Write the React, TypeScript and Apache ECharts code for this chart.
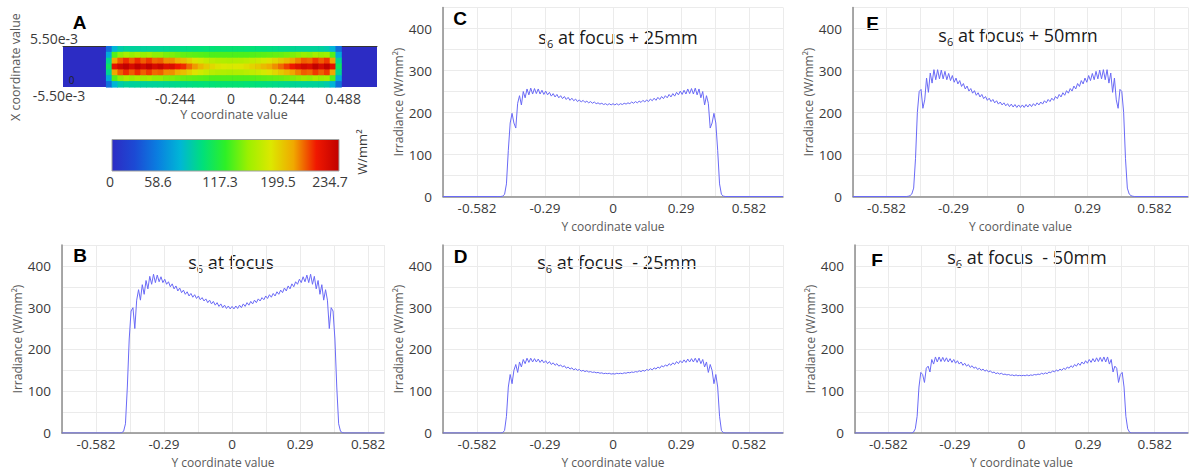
import React, { useEffect, useRef } from 'react';
import * as echarts from 'echarts';

// ---------- line-profile data (irradiance, W/mm², sampled every X_STEP starting at X_START) ----------
const X_START = -0.496;
const X_STEP = 0.008;

const S6_FOCUS = [
  0, 0,
  0, 1, 4, 22, 110, 225, 292, 300, 250, 318,
  343, 318, 355, 332, 365, 345, 375, 356, 380, 360,
  378, 362, 374, 360, 368, 356, 362, 350, 357, 345,
  352, 340, 347, 336, 342, 332, 338, 328, 334, 325,
  331, 322, 328, 319, 324, 316, 321, 312, 318, 309,
  315, 306, 312, 303, 309, 300, 306, 298, 304, 297,
  303,
  297, 304, 298, 306, 300, 309, 303, 312, 306, 315,
  309, 318, 312, 321, 316, 324, 319, 328, 322, 331,
  325, 334, 328, 338, 332, 342, 336, 347, 340, 352,
  345, 357, 350, 362, 356, 368, 360, 374, 362, 378,
  360, 380, 356, 375, 345, 365, 332, 355, 318, 343,
  318, 250, 300, 292, 225, 110, 22, 4, 1, 0,
  0, 0,
];

const S6_PLUS25 = [
  0, 0,
  0, 1, 5, 30, 110, 175, 198, 175, 163, 222,
  240, 218, 250, 235, 256, 242, 258, 244, 257, 245,
  256, 244, 253, 243, 251, 242, 248, 239, 245, 237,
  243, 235, 240, 233, 238, 231, 236, 229, 234, 228,
  232, 226, 230, 225, 229, 224, 227, 223, 226, 222,
  225, 221, 223, 220, 222, 219, 221, 218, 221, 218,
  221,
  218, 221, 218, 221, 219, 222, 220, 223, 221, 225,
  222, 226, 223, 227, 224, 229, 225, 230, 226, 232,
  228, 234, 229, 236, 231, 238, 233, 240, 235, 243,
  237, 245, 239, 248, 242, 251, 243, 253, 244, 256,
  245, 257, 244, 258, 242, 256, 235, 250, 218, 240,
  222, 163, 175, 198, 175, 110, 30, 5, 1, 0,
  0, 0,
];

const S6_MINUS25 = [
  0, 0,
  0, 1, 6, 40, 110, 140, 118, 150, 164, 145,
  170, 158, 176, 166, 179, 169, 179, 170, 178, 170,
  177, 169, 175, 168, 173, 166, 171, 164, 168, 162,
  166, 160, 163, 158, 161, 155, 158, 153, 156, 151,
  154, 150, 152, 148, 150, 147, 149, 146, 147, 145,
  146, 144, 145, 143, 144, 142, 143, 142, 143, 141,
  142,
  141, 143, 142, 143, 142, 144, 143, 145, 144, 146,
  145, 147, 146, 149, 147, 150, 148, 152, 150, 154,
  151, 156, 153, 158, 155, 161, 158, 163, 160, 166,
  162, 168, 164, 171, 166, 173, 168, 175, 169, 177,
  170, 178, 170, 179, 169, 179, 166, 176, 158, 170,
  145, 164, 150, 118, 140, 110, 40, 6, 1, 0,
  0, 0,
];

const S6_PLUS50 = [
  0, 0.5,
  2, 6, 20, 90, 200, 250, 255, 210, 230, 282,
  248, 294, 270, 302, 278, 302, 280, 301, 280, 298,
  278, 293, 276, 288, 272, 282, 268, 276, 262, 269,
  256, 263, 251, 257, 246, 252, 241, 247, 237, 243,
  233, 238, 229, 234, 226, 231, 223, 228, 220, 225,
  218, 223, 216, 221, 214, 220, 213, 219, 212, 218,
  212,
  218, 212, 219, 213, 220, 214, 221, 216, 223, 218,
  225, 220, 228, 223, 231, 226, 234, 229, 238, 233,
  243, 237, 247, 241, 252, 246, 257, 251, 263, 256,
  269, 262, 276, 268, 282, 272, 288, 276, 293, 278,
  298, 280, 301, 280, 302, 278, 302, 270, 294, 248,
  282, 230, 210, 255, 250, 200, 90, 20, 6, 2,
  0.5, 0,
];

const S6_MINUS50 = [
  0, 0,
  0, 2, 10, 40, 110, 145, 140, 121, 155, 160,
  146, 176, 165, 182, 170, 182, 171, 181, 171, 180,
  170, 178, 169, 176, 167, 173, 165, 170, 162, 167,
  160, 164, 157, 161, 155, 158, 152, 155, 150, 153,
  148, 151, 146, 149, 144, 146, 142, 144, 141, 143,
  140, 141, 139, 140, 138, 139, 137, 139, 137, 138,
  137,
  138, 137, 139, 137, 139, 138, 140, 139, 141, 140,
  143, 141, 144, 142, 146, 144, 149, 146, 151, 148,
  153, 150, 155, 152, 158, 155, 161, 157, 164, 160,
  167, 162, 170, 165, 173, 167, 176, 169, 178, 170,
  180, 171, 181, 171, 182, 170, 182, 165, 176, 146,
  160, 155, 121, 140, 145, 110, 40, 10, 2, 0,
  0, 0,
];

// ---------- axes / ticks ----------
const X_MIN = -0.7275;
const X_SPLIT = 0.1455;
const X_TICK_VALUES = [-0.582, -0.291, 0, 0.291, 0.582];
const X_TICK_LABELS = ['-0.582', '-0.29', '0', '0.29', '0.582'];
const Y_TICK_VALUES = [0, 100, 200, 300, 400];
const Y_TICK_LABELS = ['0', '100', '200', '300', '400'];

// ---------- panel A heat map (W/mm², columns every HEAT_DX from HEAT_X_START) ----------
const HEAT_X_START = -0.5325;
const HEAT_DX = 0.025;
const HEAT_Y_MIN = -0.0055;
const HEAT_Y_MAX = 0.0055;
const HEAT_ROW_CENTER = [
  100, 218, 228, 234, 224, 234, 226, 234, 224, 230, 220, 222, 212, 208, 198, 190, 182, 175, 170, 166,
  164, 163, 164, 165, 168, 172, 176, 181, 186, 192, 198, 205, 212, 220, 226, 222, 234, 224, 234, 218, 100,
];
const HEAT_ROW_INNER = [
  88, 188, 200, 208, 200, 208, 200, 206, 198, 200, 192, 192, 184, 180, 173, 166, 160, 155, 151, 149,
  148, 147, 148, 149, 151, 154, 157, 161, 166, 171, 176, 182, 188, 194, 200, 198, 206, 200, 206, 188, 88,
];
const HEAT_ROW_OUTER = [
  65, 125, 138, 145, 140, 145, 140, 143, 138, 138, 134, 134, 131, 129, 128, 127, 126, 125, 124, 124,
  124, 124, 124, 124, 124, 125, 126, 127, 128, 129, 130, 132, 134, 137, 140, 138, 144, 140, 142, 125, 65,
];
const HEAT_ROW_EDGE = [
  40, 70, 82, 86, 85, 86, 85, 86, 86, 87, 88, 89, 90, 91, 92, 93, 94, 95, 95, 96,
  96, 96, 96, 96, 95, 95, 94, 93, 92, 91, 90, 89, 88, 87, 86, 86, 86, 85, 82, 70, 40,
];
const HEAT_ROWS_TOP_DOWN = [
  HEAT_ROW_EDGE, HEAT_ROW_OUTER, HEAT_ROW_INNER, HEAT_ROW_CENTER, HEAT_ROW_INNER, HEAT_ROW_OUTER, HEAT_ROW_EDGE,
];
const HEAT_X_TICK_VALUES = [-0.244, 0, 0.244, 0.488];
const HEAT_X_TICK_LABELS = ['-0.244', '0', '0.244', '0.488'];
const HEAT_Y_TICK_LABELS = ['5.50e-3', '-5.50e-3'];
const CBAR_MIN = 0;
const CBAR_MAX = 234.7;
const CBAR_LABELS = ['0', '58.6', '117.3', '199.5', '234.7'];
const COLOR_STOPS = [
  '#2c2cc4', '#1c4ad4', '#0a7ee0', '#00b6d6', '#00e07a', '#2ef026',
  '#9cf000', '#dce800', '#f0a800', '#f01800', '#c00000',
];

// ---------- styles ----------
const FONT = '"Open Sans", "Noto Sans", sans-serif';
const LETTER_FONT = '"Liberation Sans", Arial, sans-serif';
const LINE_COLOR = '#6a6af6';
const AXIS_COLOR = '#8c8c8c';
const GRID_COLOR = '#ebebeb';
const LABEL_COLOR = '#3a3a3a';
const NAME_COLOR = '#595959';

const PANELS = [
  { letter: 'B', title: ' at focus', data: S6_FOCUS, xMax: 0.65,
    grid: { left: 62, top: 245, width: 322, height: 188 }, letterPos: [80, 255], titlePos: [231, 262] },
  { letter: 'C', title: ' at focus + 25mm', data: S6_PLUS25, xMax: 0.7275,
    grid: { left: 443, top: 7.5, width: 340, height: 189 }, letterPos: [460, 18], titlePos: [618, 37] },
  { letter: 'D', title: ' at focus  - 25mm', data: S6_MINUS25, xMax: 0.7275,
    grid: { left: 443, top: 245, width: 340, height: 188 }, letterPos: [460.5, 256.5], titlePos: [617, 262] },
  { letter: 'E', title: ' at focus + 50mm', data: S6_PLUS50, xMax: 0.7275,
    grid: { left: 853, top: 7.5, width: 340, height: 189 }, letterPos: [872.5, 23.5], titlePos: [1018, 35] },
  { letter: 'F', title: ' at focus  - 50mm', data: S6_MINUS50, xMax: 0.7275,
    grid: { left: 855, top: 245, width: 340, height: 188 }, letterPos: [877, 260], titlePos: [1027, 257] },
];

function lookup(values: number[], labels: string[], v: number, tol: number) {
  for (let i = 0; i < values.length; i++) if (Math.abs(values[i] - v) < tol) return labels[i];
  return '';
}

function buildOption() {
  const grids: any[] = [
    { left: 63, top: 46, width: 314, height: 41, show: true, backgroundColor: COLOR_STOPS[0], borderWidth: 0 },
  ];
  const xAxes: any[] = [
    {
      gridIndex: 0, type: 'value', min: -0.732, max: 0.636, interval: 0.244,
      axisLine: { show: false }, axisTick: { show: false }, splitLine: { show: false },
      axisLabel: {
        margin: 4, fontSize: 14, color: LABEL_COLOR, fontFamily: FONT,
        formatter: (v: number) => lookup(HEAT_X_TICK_VALUES, HEAT_X_TICK_LABELS, v, 1e-3),
      },
    },
    {
      gridIndex: 0, type: 'value', position: 'top', min: -0.732, max: 0.636,
      axisLine: { show: true, onZero: false, lineStyle: { color: '#333', width: 1 } },
      axisTick: { show: false }, splitLine: { show: false }, axisLabel: { show: false },
    },
  ];
  const yAxes: any[] = [
    {
      gridIndex: 0, type: 'value', min: HEAT_Y_MIN, max: HEAT_Y_MAX,
      axisLine: { show: false }, axisTick: { show: false }, splitLine: { show: false }, axisLabel: { show: false },
    },
  ];

  const heatDY = (HEAT_Y_MAX - HEAT_Y_MIN) / HEAT_ROWS_TOP_DOWN.length;
  const heatData: number[][] = [];
  HEAT_ROWS_TOP_DOWN.forEach((row, r) => {
    const y = HEAT_Y_MAX - (r + 0.5) * heatDY;
    row.forEach((v, i) => heatData.push([HEAT_X_START + i * HEAT_DX, y, v]));
  });

  const series: any[] = [
    {
      type: 'custom', xAxisIndex: 0, yAxisIndex: 0, data: heatData, encode: { x: 0, y: 1 }, silent: true,
      renderItem: (_p: any, api: any) => {
        const x = api.value(0);
        const y = api.value(1);
        const a = api.coord([x - HEAT_DX / 2, y + heatDY / 2]);
        const b = api.coord([x + HEAT_DX / 2, y - heatDY / 2]);
        return {
          type: 'rect',
          shape: { x: a[0], y: a[1], width: b[0] - a[0] + 0.6, height: b[1] - a[1] + 0.6 },
          style: { fill: api.visual('color') },
        };
      },
    },
  ];

  const graphics: any[] = [];

  PANELS.forEach((p, k) => {
    const gi = k + 1;
    const xi = xAxes.length;
    const yi = yAxes.length;
    grids.push({ ...p.grid, show: false });
    xAxes.push({
      gridIndex: gi, type: 'value', min: X_MIN, max: p.xMax, interval: X_SPLIT,
      axisLine: { show: true, onZero: false, lineStyle: { color: AXIS_COLOR, width: 1.5 } },
      axisTick: { show: false },
      splitLine: { show: true, lineStyle: { color: GRID_COLOR, width: 1 } },
      axisLabel: {
        margin: 4, fontSize: 13.5, lineHeight: 14, color: LABEL_COLOR, fontFamily: FONT,
        formatter: (v: number) => lookup(X_TICK_VALUES, X_TICK_LABELS, v, 1e-3),
      },
      name: 'Y coordinate value', nameLocation: 'middle', nameGap: 23,
      nameTextStyle: { fontSize: 12, lineHeight: 13, color: NAME_COLOR, fontFamily: FONT },
    });
    yAxes.push({
      gridIndex: gi, type: 'value', min: 0, max: 450, interval: 50,
      axisLine: { show: true, onZero: false, lineStyle: { color: AXIS_COLOR, width: 1.5 } },
      axisTick: { show: false },
      splitLine: { show: true, lineStyle: { color: GRID_COLOR, width: 1 } },
      axisLabel: {
        margin: 11, fontSize: 13.5, color: LABEL_COLOR, fontFamily: FONT,
        formatter: (v: number) => lookup(Y_TICK_VALUES, Y_TICK_LABELS, v, 1e-6),
      },
      name: 'Irradiance (W/mm²)', nameLocation: 'middle', nameGap: 30,
      nameTextStyle: { fontSize: 12, color: NAME_COLOR, fontFamily: FONT },
    });
    const pts: number[][] = [[X_MIN, 0]];
    p.data.forEach((v, i) => pts.push([X_START + i * X_STEP, v]));
    pts.push([p.xMax, 0]);
    series.push({
      type: 'line', xAxisIndex: xi, yAxisIndex: yi, data: pts, showSymbol: false, silent: true,
      lineStyle: { color: LINE_COLOR, width: 1 }, clip: true,
    });
    graphics.push({
      type: 'text', x: p.letterPos[0], y: p.letterPos[1],
      style: { text: p.letter, fill: '#000', font: `bold 19px ${LETTER_FONT}`, align: 'center', verticalAlign: 'middle' },
    });
    graphics.push({
      type: 'text', x: p.titlePos[0], y: p.titlePos[1],
      style: {
        text: `{a|s}{b|6}{a|${p.title}}`, align: 'center', verticalAlign: 'middle',
        rich: {
          a: { fontSize: 18, fontFamily: FONT, fill: '#1a1a1a' },
          b: { fontSize: 11, fontFamily: FONT, fill: '#1a1a1a', padding: [12, 0, 0, 0] },
        },
      },
    });
  });

  // Panel A texts and colour bar
  const txt = (text: string, x: number, y: number, size: number, extra: any = {}) => ({
    type: 'text', x, y, rotation: extra.rotation || 0,
    style: {
      text, fill: extra.fill || LABEL_COLOR, font: `${extra.weight || 'normal'} ${size}px ${extra.family || FONT}`,
      align: 'center', verticalAlign: 'middle',
    },
  });
  graphics.push(txt('A', 79.5, 22.5, 19, { weight: 'bold', family: LETTER_FONT, fill: '#000' }));
  graphics.push(txt(HEAT_Y_TICK_LABELS[0], 54, 38, 14));
  graphics.push(txt(HEAT_Y_TICK_LABELS[1], 59, 95, 14));
  graphics.push(txt('0', 71.5, 80, 10, { fill: '#222' }));
  graphics.push(txt('Y coordinate value', 234, 114, 12.5, { fill: NAME_COLOR }));
  graphics.push(txt('X coordinate value', 15, 67, 12.5, { fill: NAME_COLOR, rotation: Math.PI / 2 }));
  graphics.push({
    type: 'rect', shape: { x: 112, y: 139.5, width: 227, height: 31.5 },
    style: {
      fill: new echarts.graphic.LinearGradient(0, 0, 1, 0,
        COLOR_STOPS.map((c, i) => ({ offset: i / (COLOR_STOPS.length - 1), color: c }))),
      stroke: '#a0a0a0', lineWidth: 1,
    },
  });
  const cbarX = [110, 158, 220, 278, 330];
  CBAR_LABELS.forEach((l, i) => graphics.push(txt(l, cbarX[i], 181.5, 14)));
  graphics.push(txt('W/mm²', 362, 152, 13, { rotation: Math.PI / 2 }));

  return {
    animation: false,
    backgroundColor: '#ffffff',
    grid: grids,
    xAxis: xAxes,
    yAxis: yAxes,
    visualMap: {
      type: 'continuous', show: false, min: CBAR_MIN, max: CBAR_MAX, dimension: 2, seriesIndex: 0,
      inRange: { color: COLOR_STOPS },
    },
    series,
    graphic: graphics,
  };
}

export default function App() {
  const ref = useRef<HTMLDivElement>(null);
  useEffect(() => {
    const chart = echarts.init(ref.current as HTMLDivElement, null, { renderer: 'svg' });
    chart.setOption(buildOption() as any);
    return () => chart.dispose();
  }, []);
  return (
    <div
      ref={ref}
      style={{ position: 'fixed', left: 0, top: 0, width: 1191, height: 470, background: '#fff' }}
    />
  );
}
